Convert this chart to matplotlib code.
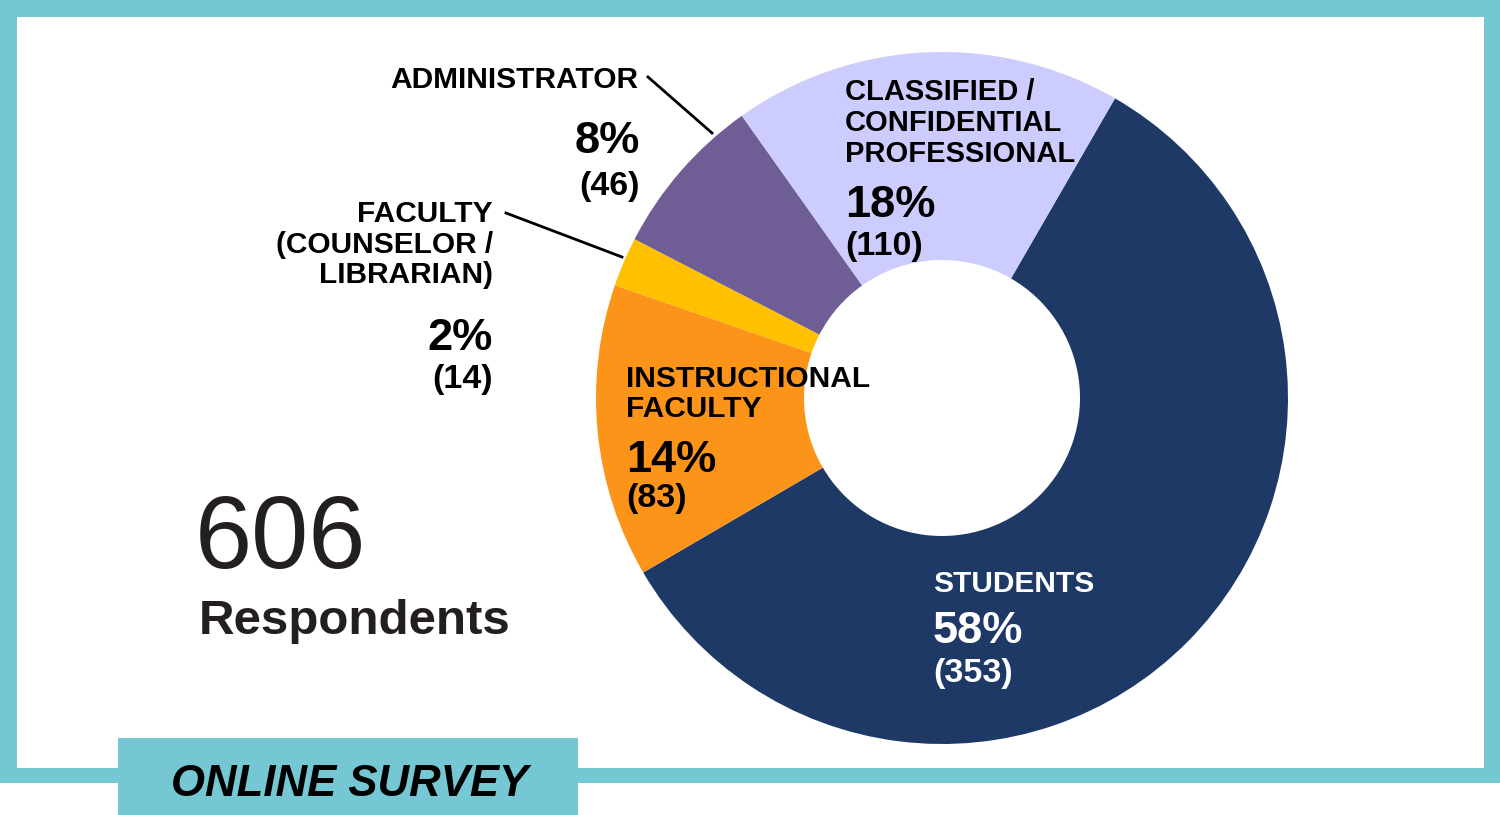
import matplotlib
matplotlib.use('Agg')
import matplotlib.pyplot as plt
from matplotlib import font_manager
from matplotlib.patches import Rectangle

# survey respondents by group
groups = ['STUDENTS', 'INSTRUCTIONAL\nFACULTY', 'FACULTY\n(COUNSELOR /\nLIBRARIAN)',
          'ADMINISTRATOR', 'CLASSIFIED /\nCONFIDENTIAL\nPROFESSIONAL']
counts = [353, 83, 14, 46, 110]
colors = ['#1e3966', '#fb9419', '#ffc000', '#6f5e96', '#ccccfe']
total = sum(counts)

teal = '#74c7d3'
W, H = 1500, 815

names = {f.name for f in font_manager.fontManager.ttflist}
narrow = 'Liberation Sans Narrow' if 'Liberation Sans Narrow' in names else 'Liberation Sans'
plt.rcParams['font.family'] = ['Liberation Sans', 'DejaVu Sans']

LAB = 21.5   # group names
PCT = 32.5   # percentages
NUM = 24.5   # counts


def Y(py):
    # image pixel row -> data y
    return H - py


def label(x, rows, lines, ha='left', color='black'):
    # lines: list of (text, size); rows: baseline pixel rows
    for (txt, size), r in zip(lines, rows):
        ax.text(x, Y(r), txt, fontsize=size, fontweight='bold', ha=ha, va='baseline', color=color)


fig = plt.figure(figsize=(15, 8.15), dpi=100)
ax = fig.add_axes([0, 0, 1, 1])

# frame
ax.add_patch(Rectangle((0, Y(783)), W, 783, facecolor=teal, edgecolor='none', zorder=0))
ax.add_patch(Rectangle((17, Y(768)), 1484 - 17, 768 - 17, facecolor='white', edgecolor='none', zorder=0.5))

# donut
ax.pie(counts, colors=colors, startangle=60, counterclock=False,
       center=(942, Y(398)), radius=346, frame=True,
       wedgeprops=dict(width=208, edgecolor='none'))

pct = [f"{round(c / total * 100)}%" for c in counts]
num = [f"({c})" for c in counts]

# classified
cl = groups[4].split('\n')
label(845, [100, 131, 162, 217, 255],
      [(cl[0], 21), (cl[1], 21), (cl[2], 21), (pct[4], PCT), (num[4], NUM)])

# administrator
label(638, [88], [(groups[3], LAB)], ha='right')
label(640, [153, 195], [(pct[3], PCT), (num[3], NUM)], ha='right')
ax.plot([648, 712], [Y(77), Y(133)], color='black', lw=2)

# faculty counselor / librarian
fc = groups[2].split('\n')
label(493, [222, 253, 283, 350, 388],
      [(fc[0], LAB), (fc[1], LAB), (fc[2], LAB), (pct[2], PCT), (num[2], NUM)], ha='right')
ax.plot([506, 622], [Y(213), Y(257)], color='black', lw=2)

# instructional faculty
inf = groups[1].split('\n')
label(626, [387, 417, 472, 507],
      [(inf[0], LAB), (inf[1], LAB), (pct[1], PCT), (num[1], NUM)])

# students
label(933, [592, 643, 682], [(groups[0], LAB), (pct[0], PCT), (num[0], NUM)], color='white')

# total respondents
ax.text(195, Y(568), str(total), fontsize=74, ha='left', va='baseline', color='#231f20')
ax.text(199, Y(634), 'Respondents', fontsize=35.5, fontweight='bold', ha='left', va='baseline',
        color='#231f20')

# bottom tab
ax.add_patch(Rectangle((118, Y(815)), 578 - 118, 815 - 738, facecolor=teal, edgecolor='none', zorder=3))
ax.text(350, Y(796), 'ONLINE SURVEY', fontsize=31.5, fontweight='bold', style='italic',
        family=[narrow, 'DejaVu Sans'], ha='center', va='baseline', color='black', zorder=4)

ax.set_xlim(0, W)
ax.set_ylim(0, H)
ax.set_aspect('auto')
ax.axis('off')

fig.savefig('out.png', dpi=100, facecolor='white')
plt.close()
